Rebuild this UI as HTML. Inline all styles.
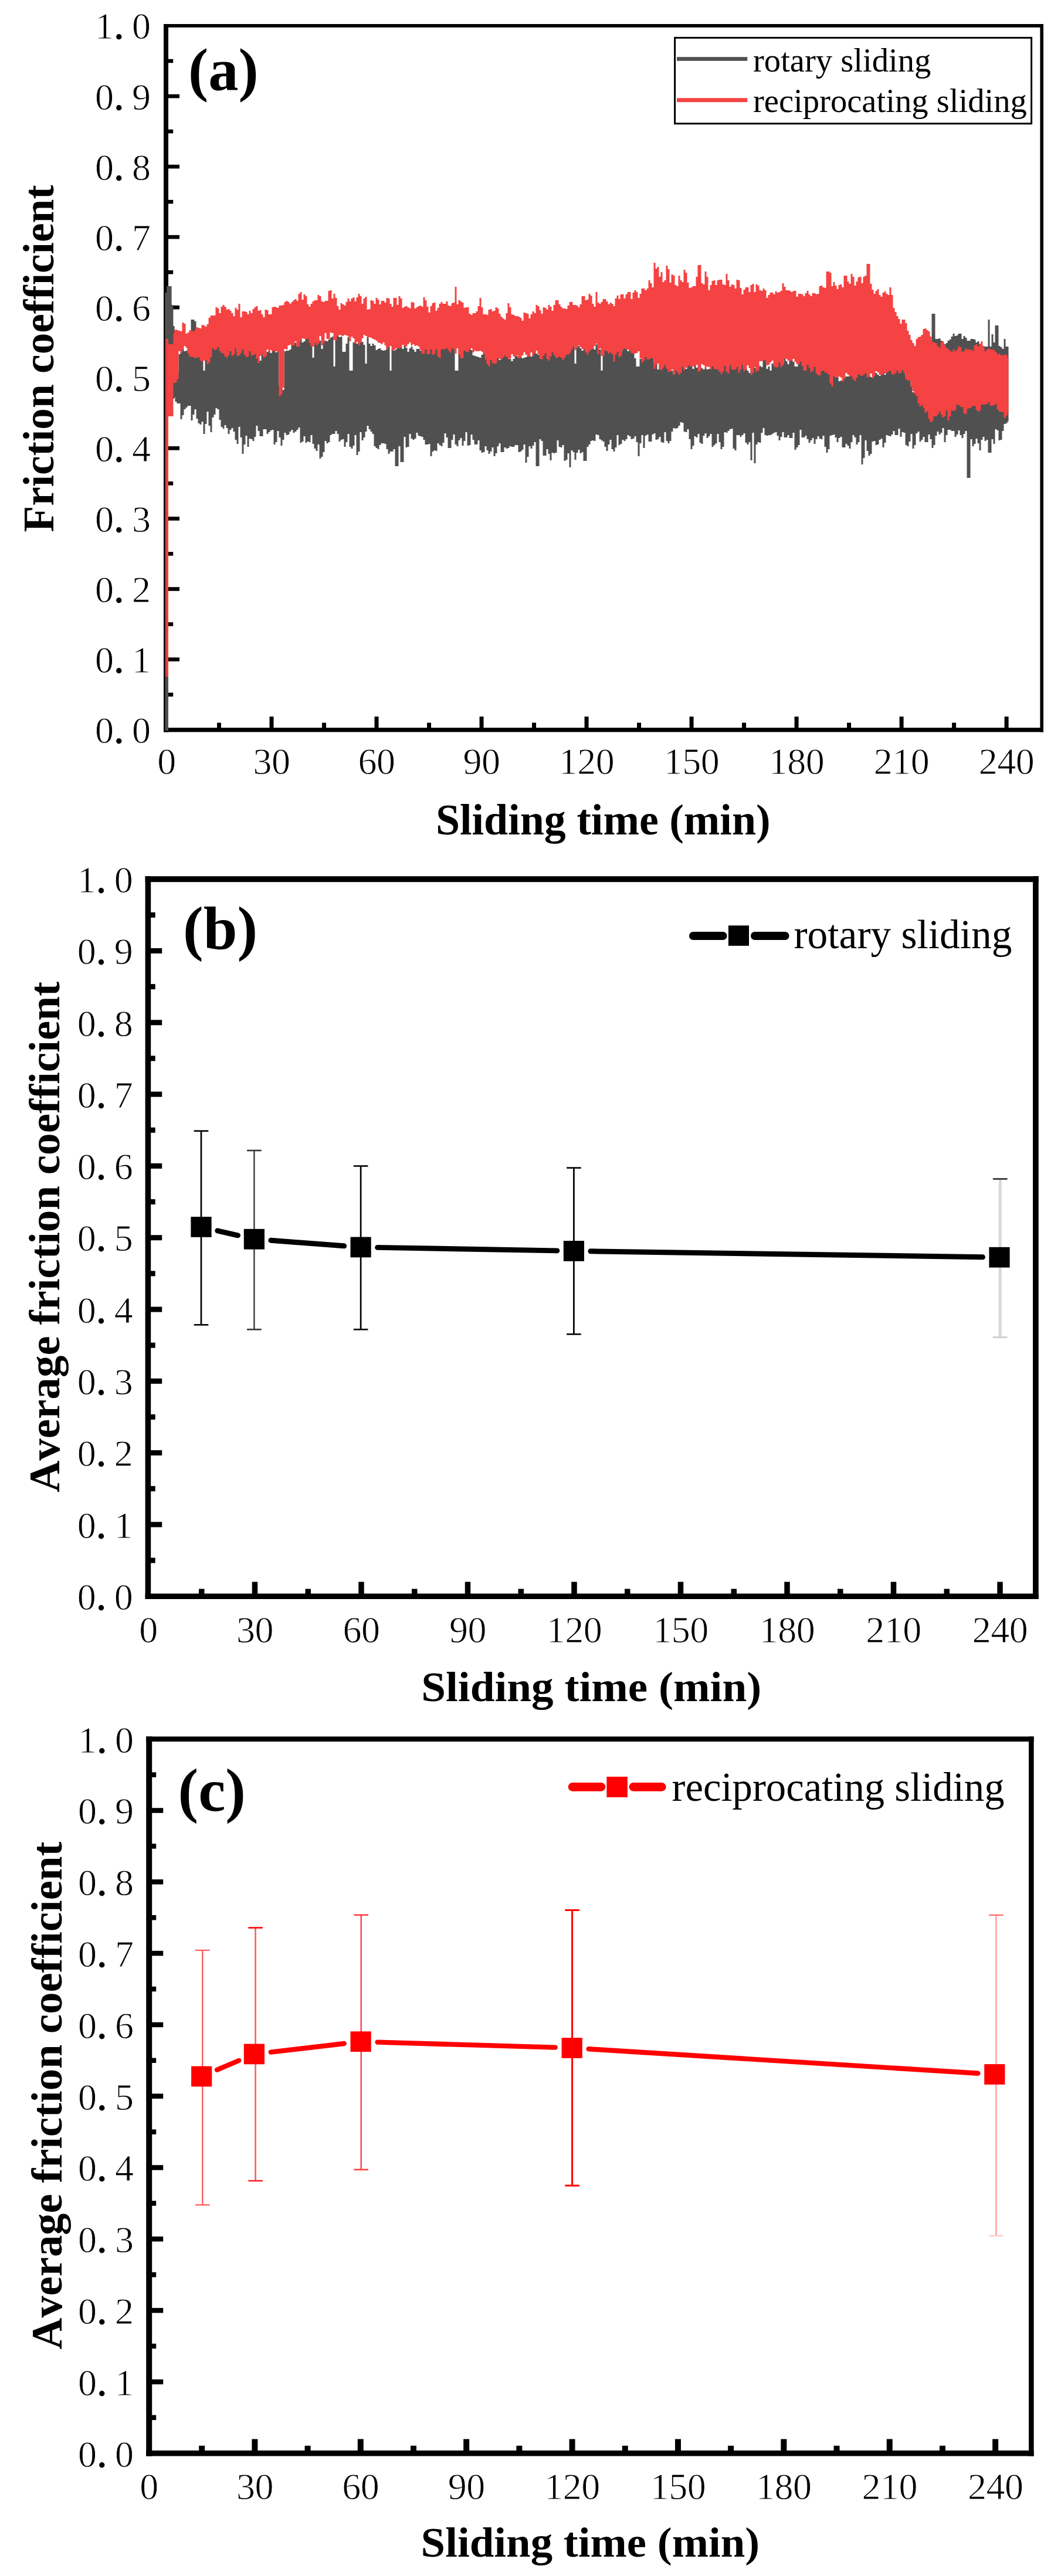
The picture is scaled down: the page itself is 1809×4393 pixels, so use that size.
<!DOCTYPE html>
<html lang="en"><head><meta charset="utf-8"><title>Friction coefficient vs sliding time</title>
<style>
html,body{margin:0;padding:0;background:#fff;}
body{width:1809px;height:4393px;overflow:hidden;}
svg{display:block;}
text{font-family:"Liberation Serif", serif;fill:#000;font-variant-ligatures:none;}
.tk{font-weight:400;stroke:#fff;stroke-width:0.9px;paint-order:fill stroke;}
.pd{stroke:#000;stroke-width:1.8px;}
.b{font-weight:700;}
.nk{font-kerning:none;}
</style></head><body>
<svg width="1809" height="4393" viewBox="0 0 1809 4393">
<rect width="1809" height="4393" fill="#fff"/>
<g id="panel-a">
<rect x="279.00" y="41.00" width="8.00" height="1207.40" fill="#000"/>
<rect x="1773.40" y="41.00" width="5.60" height="1207.40" fill="#000"/>
<rect x="279.00" y="41.00" width="1500.00" height="5.80" fill="#000"/>
<rect x="279.00" y="1241.00" width="1500.00" height="7.40" fill="#000"/>
<rect x="286.50" y="1181.27" width="8.70" height="6.60" fill="#000"/>
<rect x="286.50" y="1121.24" width="19.50" height="6.60" fill="#000"/>
<rect x="286.50" y="1061.21" width="8.70" height="6.60" fill="#000"/>
<rect x="286.50" y="1001.18" width="19.50" height="6.60" fill="#000"/>
<rect x="286.50" y="941.15" width="8.70" height="6.60" fill="#000"/>
<rect x="286.50" y="881.12" width="19.50" height="6.60" fill="#000"/>
<rect x="286.50" y="821.09" width="8.70" height="6.60" fill="#000"/>
<rect x="286.50" y="761.06" width="19.50" height="6.60" fill="#000"/>
<rect x="286.50" y="701.03" width="8.70" height="6.60" fill="#000"/>
<rect x="286.50" y="641.00" width="19.50" height="6.60" fill="#000"/>
<rect x="286.50" y="580.97" width="8.70" height="6.60" fill="#000"/>
<rect x="286.50" y="520.94" width="19.50" height="6.60" fill="#000"/>
<rect x="286.50" y="460.91" width="8.70" height="6.60" fill="#000"/>
<rect x="286.50" y="400.88" width="19.50" height="6.60" fill="#000"/>
<rect x="286.50" y="340.85" width="8.70" height="6.60" fill="#000"/>
<rect x="286.50" y="280.82" width="19.50" height="6.60" fill="#000"/>
<rect x="286.50" y="220.79" width="8.70" height="6.60" fill="#000"/>
<rect x="286.50" y="160.76" width="19.50" height="6.60" fill="#000"/>
<rect x="286.50" y="100.73" width="8.70" height="6.60" fill="#000"/>
<rect x="370.00" y="1232.50" width="7.00" height="9.00" fill="#000"/>
<rect x="459.51" y="1222.00" width="7.00" height="19.50" fill="#000"/>
<rect x="549.01" y="1232.50" width="7.00" height="9.00" fill="#000"/>
<rect x="638.52" y="1222.00" width="7.00" height="19.50" fill="#000"/>
<rect x="728.02" y="1232.50" width="7.00" height="9.00" fill="#000"/>
<rect x="817.53" y="1222.00" width="7.00" height="19.50" fill="#000"/>
<rect x="907.03" y="1232.50" width="7.00" height="9.00" fill="#000"/>
<rect x="996.54" y="1222.00" width="7.00" height="19.50" fill="#000"/>
<rect x="1086.05" y="1232.50" width="7.00" height="9.00" fill="#000"/>
<rect x="1175.55" y="1222.00" width="7.00" height="19.50" fill="#000"/>
<rect x="1265.05" y="1232.50" width="7.00" height="9.00" fill="#000"/>
<rect x="1354.56" y="1222.00" width="7.00" height="19.50" fill="#000"/>
<rect x="1444.06" y="1232.50" width="7.00" height="9.00" fill="#000"/>
<rect x="1533.57" y="1222.00" width="7.00" height="19.50" fill="#000"/>
<rect x="1623.07" y="1232.50" width="7.00" height="9.00" fill="#000"/>
<rect x="1712.58" y="1222.00" width="7.00" height="19.50" fill="#000"/>
<text class="tk" y="1267.0" font-size="64"><tspan x="162.0">0</tspan><tspan class="pd" x="194.7">.</tspan><tspan x="225.0">0</tspan></text>
<text class="tk" y="1146.9" font-size="64"><tspan x="162.0">0</tspan><tspan class="pd" x="194.7">.</tspan><tspan x="225.0">1</tspan></text>
<text class="tk" y="1026.9" font-size="64"><tspan x="162.0">0</tspan><tspan class="pd" x="194.7">.</tspan><tspan x="225.0">2</tspan></text>
<text class="tk" y="906.8" font-size="64"><tspan x="162.0">0</tspan><tspan class="pd" x="194.7">.</tspan><tspan x="225.0">3</tspan></text>
<text class="tk" y="786.8" font-size="64"><tspan x="162.0">0</tspan><tspan class="pd" x="194.7">.</tspan><tspan x="225.0">4</tspan></text>
<text class="tk" y="666.7" font-size="64"><tspan x="162.0">0</tspan><tspan class="pd" x="194.7">.</tspan><tspan x="225.0">5</tspan></text>
<text class="tk" y="546.6" font-size="64"><tspan x="162.0">0</tspan><tspan class="pd" x="194.7">.</tspan><tspan x="225.0">6</tspan></text>
<text class="tk" y="426.6" font-size="64"><tspan x="162.0">0</tspan><tspan class="pd" x="194.7">.</tspan><tspan x="225.0">7</tspan></text>
<text class="tk" y="306.5" font-size="64"><tspan x="162.0">0</tspan><tspan class="pd" x="194.7">.</tspan><tspan x="225.0">8</tspan></text>
<text class="tk" y="186.5" font-size="64"><tspan x="162.0">0</tspan><tspan class="pd" x="194.7">.</tspan><tspan x="225.0">9</tspan></text>
<text class="tk" y="66.4" font-size="64"><tspan x="162.0">1</tspan><tspan class="pd" x="194.7">.</tspan><tspan x="225.0">0</tspan></text>
<text class="tk" x="268.2" y="1320.3" font-size="64">0</text>
<text class="tk" x="431.5 463.0" y="1320.3" font-size="64">30</text>
<text class="tk" x="610.5 642.0" y="1320.3" font-size="64">60</text>
<text class="tk" x="789.5 821.0" y="1320.3" font-size="64">90</text>
<text class="tk" x="952.8 984.3 1015.8" y="1320.3" font-size="64">120</text>
<text class="tk" x="1131.8 1163.3 1194.8" y="1320.3" font-size="64">150</text>
<text class="tk" x="1310.8 1342.3 1373.8" y="1320.3" font-size="64">180</text>
<text class="tk" x="1489.8 1521.3 1552.8" y="1320.3" font-size="64">210</text>
<text class="tk" x="1668.8 1700.3 1731.8" y="1320.3" font-size="64">240</text>
<polygon fill="#505050" points="295.5,643 298.5,643 298.5,635 301.5,635 301.5,636 304.5,636 304.5,604 307.5,604 307.5,600 310.5,600 310.5,596 313.5,596 313.5,599 316.5,599 316.5,598 319.5,598 319.5,593 322.5,593 322.5,596 325.5,596 325.5,545 331.5,545 331.5,548 334.5,548 334.5,599 337.5,599 337.5,607 340.5,607 340.5,602 346.5,602 346.5,632 349.5,632 349.5,600 355.5,600 355.5,598 358.5,598 358.5,592 361.5,592 361.5,590 364.5,590 364.5,587 367.5,587 367.5,578 370.5,578 370.5,577 373.5,577 373.5,589 376.5,589 376.5,585 382.5,585 382.5,586 385.5,586 385.5,595 388.5,595 388.5,591 391.5,591 391.5,589 394.5,589 394.5,590 397.5,590 397.5,591 400.5,591 400.5,594 403.5,594 403.5,600 406.5,600 406.5,603 409.5,603 409.5,595 412.5,595 412.5,593 415.5,593 415.5,592 418.5,592 418.5,591 421.5,591 421.5,588 424.5,588 424.5,594 427.5,594 427.5,595 430.5,595 430.5,586 433.5,586 433.5,585 436.5,585 436.5,596 439.5,596 439.5,599 442.5,599 442.5,615 445.5,615 445.5,601 448.5,601 448.5,607 451.5,607 451.5,605 454.5,605 454.5,600 457.5,600 457.5,598 460.5,598 460.5,602 463.5,602 463.5,589 466.5,589 466.5,590 469.5,590 469.5,601 472.5,601 472.5,600 475.5,600 475.5,657 478.5,657 478.5,659 481.5,659 481.5,665 484.5,665 484.5,599 487.5,599 487.5,598 493.5,598 493.5,596 496.5,596 496.5,586 499.5,586 499.5,587 502.5,587 502.5,584 505.5,584 505.5,591 508.5,591 508.5,577 514.5,577 514.5,584 517.5,584 517.5,582 520.5,582 520.5,576 526.5,576 526.5,575 529.5,575 529.5,574 532.5,574 532.5,610 535.5,610 535.5,581 538.5,581 538.5,579 544.5,579 544.5,581 547.5,581 547.5,595 550.5,595 550.5,581 556.5,581 556.5,582 559.5,582 559.5,579 562.5,579 562.5,576 565.5,576 565.5,574 568.5,574 568.5,625 571.5,625 571.5,563 574.5,563 574.5,561 577.5,561 577.5,575 580.5,575 580.5,574 583.5,574 583.5,600 589.5,600 589.5,586 592.5,586 592.5,575 595.5,575 595.5,632 601.5,632 601.5,584 604.5,584 604.5,582 607.5,582 607.5,586 610.5,586 610.5,583 613.5,583 613.5,576 616.5,576 616.5,583 619.5,583 619.5,588 622.5,588 622.5,620 625.5,620 625.5,576 628.5,576 628.5,586 631.5,586 631.5,590 634.5,590 634.5,586 637.5,586 637.5,589 640.5,589 640.5,597 643.5,597 643.5,595 646.5,595 646.5,594 649.5,594 649.5,597 652.5,597 652.5,598 655.5,598 655.5,597 658.5,597 658.5,589 661.5,589 661.5,590 664.5,590 664.5,632 667.5,632 667.5,596 670.5,596 670.5,598 673.5,598 673.5,596 676.5,596 676.5,593 679.5,593 679.5,590 682.5,590 682.5,593 685.5,593 685.5,595 688.5,595 688.5,589 691.5,589 691.5,593 694.5,593 694.5,600 697.5,600 697.5,594 700.5,594 700.5,591 703.5,591 703.5,596 706.5,596 706.5,600 709.5,600 709.5,595 715.5,595 715.5,598 718.5,598 718.5,593 721.5,593 721.5,595 727.5,595 727.5,591 730.5,591 730.5,585 733.5,585 733.5,590 736.5,590 736.5,587 739.5,587 739.5,581 742.5,581 742.5,583 745.5,583 745.5,591 748.5,591 748.5,585 754.5,585 754.5,590 757.5,590 757.5,584 760.5,584 760.5,582 763.5,582 763.5,587 769.5,587 769.5,584 772.5,584 772.5,583 775.5,583 775.5,632 781.5,632 781.5,585 784.5,585 784.5,590 787.5,590 787.5,595 790.5,595 790.5,579 793.5,579 793.5,585 796.5,585 796.5,592 799.5,592 799.5,590 802.5,590 802.5,597 805.5,597 805.5,606 808.5,606 808.5,607 811.5,607 811.5,608 814.5,608 814.5,609 817.5,609 817.5,610 820.5,610 820.5,605 823.5,605 823.5,602 826.5,602 826.5,605 829.5,605 829.5,612 832.5,612 832.5,605 835.5,605 835.5,608 838.5,608 838.5,614 841.5,614 841.5,611 850.5,611 850.5,614 853.5,614 853.5,609 856.5,609 856.5,604 859.5,604 859.5,603 862.5,603 862.5,608 865.5,608 865.5,609 868.5,609 868.5,612 871.5,612 871.5,616 874.5,616 874.5,612 877.5,612 877.5,601 880.5,601 880.5,607 883.5,607 883.5,610 886.5,610 886.5,609 889.5,609 889.5,611 892.5,611 892.5,610 895.5,610 895.5,609 898.5,609 898.5,607 901.5,607 901.5,608 907.5,608 907.5,600 910.5,600 910.5,598 913.5,598 913.5,603 916.5,603 916.5,605 919.5,605 919.5,600 922.5,600 922.5,599 925.5,599 925.5,600 928.5,600 928.5,594 931.5,594 931.5,595 934.5,595 934.5,598 940.5,598 940.5,599 943.5,599 943.5,598 946.5,598 946.5,599 949.5,599 949.5,598 952.5,598 952.5,594 955.5,594 955.5,593 958.5,593 958.5,594 964.5,594 964.5,589 967.5,589 967.5,592 970.5,592 970.5,595 973.5,595 973.5,586 976.5,586 976.5,587 979.5,587 979.5,620 982.5,620 982.5,590 988.5,590 988.5,594 991.5,594 991.5,598 994.5,598 994.5,594 997.5,594 997.5,595 1000.5,595 1000.5,600 1003.5,600 1003.5,596 1006.5,596 1006.5,593 1009.5,593 1009.5,592 1012.5,592 1012.5,596 1015.5,596 1015.5,587 1018.5,587 1018.5,590 1021.5,590 1021.5,596 1024.5,596 1024.5,632 1027.5,632 1027.5,590 1030.5,590 1030.5,591 1033.5,591 1033.5,597 1036.5,597 1036.5,596 1039.5,596 1039.5,594 1042.5,594 1042.5,593 1048.5,593 1048.5,595 1054.5,595 1054.5,597 1057.5,597 1057.5,601 1060.5,601 1060.5,593 1063.5,593 1063.5,590 1066.5,590 1066.5,595 1069.5,595 1069.5,599 1072.5,599 1072.5,594 1075.5,594 1075.5,598 1078.5,598 1078.5,601 1081.5,601 1081.5,611 1084.5,611 1084.5,625 1090.5,625 1090.5,612 1096.5,612 1096.5,606 1099.5,606 1099.5,605 1102.5,605 1102.5,609 1105.5,609 1105.5,602 1108.5,602 1108.5,605 1111.5,605 1111.5,611 1114.5,611 1114.5,619 1117.5,619 1117.5,618 1120.5,618 1120.5,630 1123.5,630 1123.5,621 1126.5,621 1126.5,615 1129.5,615 1129.5,613 1132.5,613 1132.5,614 1135.5,614 1135.5,624 1138.5,624 1138.5,627 1144.5,627 1144.5,632 1147.5,632 1147.5,638 1150.5,638 1150.5,630 1156.5,630 1156.5,632 1159.5,632 1159.5,619 1162.5,619 1162.5,621 1165.5,621 1165.5,628 1168.5,628 1168.5,629 1171.5,629 1171.5,621 1177.5,621 1177.5,624 1180.5,624 1180.5,629 1183.5,629 1183.5,621 1186.5,621 1186.5,627 1189.5,627 1189.5,628 1192.5,628 1192.5,625 1195.5,625 1195.5,628 1198.5,628 1198.5,630 1201.5,630 1201.5,628 1204.5,628 1204.5,630 1207.5,630 1207.5,629 1210.5,629 1210.5,622 1213.5,622 1213.5,621 1216.5,621 1216.5,622 1219.5,622 1219.5,623 1222.5,623 1222.5,618 1228.5,618 1228.5,620 1234.5,620 1234.5,618 1237.5,618 1237.5,621 1240.5,621 1240.5,625 1243.5,625 1243.5,621 1246.5,621 1246.5,622 1249.5,622 1249.5,624 1252.5,624 1252.5,616 1255.5,616 1255.5,619 1258.5,619 1258.5,624 1261.5,624 1261.5,617 1264.5,617 1264.5,619 1267.5,619 1267.5,628 1270.5,628 1270.5,629 1273.5,629 1273.5,632 1276.5,632 1276.5,636 1279.5,636 1279.5,625 1282.5,625 1282.5,624 1285.5,624 1285.5,627 1288.5,627 1288.5,630 1291.5,630 1291.5,626 1294.5,626 1294.5,624 1297.5,624 1297.5,626 1300.5,626 1300.5,606 1303.5,606 1303.5,607 1306.5,607 1306.5,629 1309.5,629 1309.5,625 1312.5,625 1312.5,632 1315.5,632 1315.5,620 1318.5,620 1318.5,621 1321.5,621 1321.5,619 1324.5,619 1324.5,612 1327.5,612 1327.5,614 1330.5,614 1330.5,616 1333.5,616 1333.5,618 1336.5,618 1336.5,611 1339.5,611 1339.5,616 1342.5,616 1342.5,621 1345.5,621 1345.5,614 1348.5,614 1348.5,615 1351.5,615 1351.5,617 1354.5,617 1354.5,625 1360.5,625 1360.5,609 1363.5,609 1363.5,613 1366.5,613 1366.5,612 1369.5,612 1369.5,609 1372.5,609 1372.5,613 1375.5,613 1375.5,618 1378.5,618 1378.5,609 1381.5,609 1381.5,610 1384.5,610 1384.5,621 1387.5,621 1387.5,624 1390.5,624 1390.5,626 1393.5,626 1393.5,631 1396.5,631 1396.5,624 1399.5,624 1399.5,623 1402.5,623 1402.5,626 1408.5,626 1408.5,621 1411.5,621 1411.5,626 1414.5,626 1414.5,632 1417.5,632 1417.5,641 1423.5,641 1423.5,636 1426.5,636 1426.5,640 1429.5,640 1429.5,650 1432.5,650 1432.5,649 1435.5,649 1435.5,647 1438.5,647 1438.5,644 1441.5,644 1441.5,642 1453.5,642 1453.5,638 1456.5,638 1456.5,634 1459.5,634 1459.5,636 1462.5,636 1462.5,637 1465.5,637 1465.5,634 1468.5,634 1468.5,632 1471.5,632 1471.5,634 1474.5,634 1474.5,635 1477.5,635 1477.5,637 1480.5,637 1480.5,640 1483.5,640 1483.5,643 1486.5,643 1486.5,644 1489.5,644 1489.5,636 1495.5,636 1495.5,639 1498.5,639 1498.5,641 1501.5,641 1501.5,623 1504.5,623 1504.5,626 1507.5,626 1507.5,639 1510.5,639 1510.5,632 1513.5,632 1513.5,628 1516.5,628 1516.5,626 1519.5,626 1519.5,633 1525.5,633 1525.5,622 1528.5,622 1528.5,624 1531.5,624 1531.5,630 1534.5,630 1534.5,632 1537.5,632 1537.5,630 1540.5,630 1540.5,633 1543.5,633 1543.5,642 1546.5,642 1546.5,639 1549.5,639 1549.5,648 1552.5,648 1552.5,658 1555.5,658 1555.5,669 1558.5,669 1558.5,666 1561.5,666 1561.5,667 1564.5,667 1564.5,669 1567.5,669 1567.5,676 1570.5,676 1570.5,675 1573.5,675 1573.5,682 1576.5,682 1576.5,690 1579.5,690 1579.5,684 1582.5,684 1582.5,689 1585.5,689 1585.5,695 1588.5,695 1588.5,535 1594.5,535 1594.5,578 1600.5,578 1600.5,577 1603.5,577 1603.5,581 1606.5,581 1606.5,585 1609.5,585 1609.5,587 1612.5,587 1612.5,585 1615.5,585 1615.5,581 1618.5,581 1618.5,579 1621.5,579 1621.5,574 1624.5,574 1624.5,569 1627.5,569 1627.5,573 1630.5,573 1630.5,572 1633.5,572 1633.5,569 1639.5,569 1639.5,578 1642.5,578 1642.5,573 1645.5,573 1645.5,576 1648.5,576 1648.5,581 1654.5,581 1654.5,578 1660.5,578 1660.5,579 1663.5,579 1663.5,584 1666.5,584 1666.5,582 1669.5,582 1669.5,587 1672.5,587 1672.5,591 1675.5,591 1675.5,590 1678.5,590 1678.5,591 1684.5,591 1684.5,545 1687.5,545 1687.5,591 1690.5,591 1690.5,570 1693.5,570 1693.5,584 1696.5,584 1696.5,555 1702.5,555 1702.5,590 1705.5,590 1705.5,592 1708.5,592 1708.5,595 1711.5,595 1711.5,578 1714.5,578 1714.5,591 1719.5,591 1719.5,719 1717.5,719 1717.5,722 1714.5,722 1714.5,723 1711.5,723 1711.5,735 1708.5,735 1708.5,750 1705.5,750 1705.5,751 1702.5,751 1702.5,734 1699.5,734 1699.5,732 1696.5,732 1696.5,757 1693.5,757 1693.5,749 1690.5,749 1690.5,772 1684.5,772 1684.5,750 1681.5,750 1681.5,752 1678.5,752 1678.5,745 1675.5,745 1675.5,750 1672.5,750 1672.5,768 1669.5,768 1669.5,756 1666.5,756 1666.5,748 1663.5,748 1663.5,757 1660.5,757 1660.5,761 1657.5,761 1657.5,749 1654.5,749 1654.5,815 1648.5,815 1648.5,735 1645.5,735 1645.5,740 1642.5,740 1642.5,747 1639.5,747 1639.5,742 1636.5,742 1636.5,734 1633.5,734 1633.5,741 1630.5,741 1630.5,745 1627.5,745 1627.5,735 1621.5,735 1621.5,733 1615.5,733 1615.5,742 1612.5,742 1612.5,754 1609.5,754 1609.5,730 1606.5,730 1606.5,738 1603.5,738 1603.5,741 1600.5,741 1600.5,736 1597.5,736 1597.5,743 1594.5,743 1594.5,759 1591.5,759 1591.5,764 1588.5,764 1588.5,749 1585.5,749 1585.5,741 1582.5,741 1582.5,754 1576.5,754 1576.5,745 1573.5,745 1573.5,750 1570.5,750 1570.5,753 1567.5,753 1567.5,736 1564.5,736 1564.5,739 1561.5,739 1561.5,759 1558.5,759 1558.5,765 1555.5,765 1555.5,740 1552.5,740 1552.5,753 1549.5,753 1549.5,761 1546.5,761 1546.5,759 1543.5,759 1543.5,738 1540.5,738 1540.5,737 1537.5,737 1537.5,745 1534.5,745 1534.5,731 1531.5,731 1531.5,742 1525.5,742 1525.5,735 1522.5,735 1522.5,741 1519.5,741 1519.5,744 1516.5,744 1516.5,743 1513.5,743 1513.5,742 1510.5,742 1510.5,755 1507.5,755 1507.5,763 1504.5,763 1504.5,748 1501.5,748 1501.5,750 1498.5,750 1498.5,758 1495.5,758 1495.5,759 1492.5,759 1492.5,752 1489.5,752 1489.5,753 1486.5,753 1486.5,774 1483.5,774 1483.5,777 1480.5,777 1480.5,769 1477.5,769 1477.5,751 1474.5,751 1474.5,781 1471.5,781 1471.5,792 1468.5,792 1468.5,742 1465.5,742 1465.5,754 1462.5,754 1462.5,758 1459.5,758 1459.5,746 1456.5,746 1456.5,742 1453.5,742 1453.5,754 1450.5,754 1450.5,765 1447.5,765 1447.5,760 1444.5,760 1444.5,757 1441.5,757 1441.5,763 1435.5,763 1435.5,745 1432.5,745 1432.5,747 1429.5,747 1429.5,754 1426.5,754 1426.5,746 1423.5,746 1423.5,741 1420.5,741 1420.5,742 1417.5,742 1417.5,743 1414.5,743 1414.5,766 1411.5,766 1411.5,772 1408.5,772 1408.5,762 1405.5,762 1405.5,743 1402.5,743 1402.5,749 1399.5,749 1399.5,748 1396.5,748 1396.5,744 1393.5,744 1393.5,749 1390.5,749 1390.5,757 1387.5,757 1387.5,747 1384.5,747 1384.5,751 1381.5,751 1381.5,755 1378.5,755 1378.5,749 1375.5,749 1375.5,743 1372.5,743 1372.5,746 1366.5,746 1366.5,733 1363.5,733 1363.5,759 1360.5,759 1360.5,763 1357.5,763 1357.5,767 1354.5,767 1354.5,738 1351.5,738 1351.5,747 1345.5,747 1345.5,742 1342.5,742 1342.5,746 1336.5,746 1336.5,737 1333.5,737 1333.5,745 1330.5,745 1330.5,751 1327.5,751 1327.5,743 1324.5,743 1324.5,737 1321.5,737 1321.5,738 1318.5,738 1318.5,740 1315.5,740 1315.5,742 1309.5,742 1309.5,743 1306.5,743 1306.5,742 1303.5,742 1303.5,730 1300.5,730 1300.5,738 1297.5,738 1297.5,755 1294.5,755 1294.5,754 1291.5,754 1291.5,758 1288.5,758 1288.5,790 1285.5,790 1285.5,738 1282.5,738 1282.5,785 1279.5,785 1279.5,754 1276.5,754 1276.5,758 1273.5,758 1273.5,755 1270.5,755 1270.5,739 1267.5,739 1267.5,742 1264.5,742 1264.5,745 1261.5,745 1261.5,742 1255.5,742 1255.5,768 1252.5,768 1252.5,765 1249.5,765 1249.5,731 1246.5,731 1246.5,732 1243.5,732 1243.5,735 1240.5,735 1240.5,738 1237.5,738 1237.5,737 1234.5,737 1234.5,762 1231.5,762 1231.5,766 1228.5,766 1228.5,754 1225.5,754 1225.5,740 1222.5,740 1222.5,756 1219.5,756 1219.5,759 1216.5,759 1216.5,762 1213.5,762 1213.5,740 1210.5,740 1210.5,744 1207.5,744 1207.5,747 1204.5,747 1204.5,739 1201.5,739 1201.5,743 1198.5,743 1198.5,757 1195.5,757 1195.5,755 1192.5,755 1192.5,740 1189.5,740 1189.5,746 1186.5,746 1186.5,744 1183.5,744 1183.5,760 1180.5,760 1180.5,766 1177.5,766 1177.5,749 1174.5,749 1174.5,732 1171.5,732 1171.5,737 1168.5,737 1168.5,736 1165.5,736 1165.5,721 1162.5,721 1162.5,720 1159.5,720 1159.5,726 1156.5,726 1156.5,730 1153.5,730 1153.5,731 1150.5,731 1150.5,730 1147.5,730 1147.5,736 1144.5,736 1144.5,752 1141.5,752 1141.5,756 1138.5,756 1138.5,752 1135.5,752 1135.5,737 1132.5,737 1132.5,755 1129.5,755 1129.5,754 1126.5,754 1126.5,745 1123.5,745 1123.5,749 1120.5,749 1120.5,750 1117.5,750 1117.5,739 1114.5,739 1114.5,741 1111.5,741 1111.5,753 1105.5,753 1105.5,741 1102.5,741 1102.5,743 1099.5,743 1099.5,764 1096.5,764 1096.5,742 1093.5,742 1093.5,756 1090.5,756 1090.5,778 1087.5,778 1087.5,754 1084.5,754 1084.5,744 1081.5,744 1081.5,748 1078.5,748 1078.5,749 1075.5,749 1075.5,744 1072.5,744 1072.5,742 1069.5,742 1069.5,749 1066.5,749 1066.5,752 1063.5,752 1063.5,750 1060.5,750 1060.5,757 1057.5,757 1057.5,759 1054.5,759 1054.5,742 1051.5,742 1051.5,763 1048.5,763 1048.5,770 1045.5,770 1045.5,766 1042.5,766 1042.5,750 1039.5,750 1039.5,758 1036.5,758 1036.5,769 1033.5,769 1033.5,762 1030.5,762 1030.5,753 1027.5,753 1027.5,751 1024.5,751 1024.5,749 1021.5,749 1021.5,742 1018.5,742 1018.5,741 1015.5,741 1015.5,752 1012.5,752 1012.5,751 1009.5,751 1009.5,752 1006.5,752 1006.5,758 1003.5,758 1003.5,762 1000.5,762 1000.5,786 994.5,786 994.5,771 991.5,771 991.5,773 988.5,773 988.5,767 985.5,767 985.5,772 982.5,772 982.5,784 979.5,784 979.5,771 976.5,771 976.5,768 973.5,768 973.5,797 970.5,797 970.5,773 967.5,773 967.5,784 964.5,784 964.5,786 961.5,786 961.5,759 958.5,759 958.5,763 955.5,763 955.5,762 952.5,762 952.5,751 949.5,751 949.5,772 946.5,772 946.5,773 943.5,773 943.5,772 940.5,772 940.5,785 937.5,785 937.5,774 934.5,774 934.5,766 931.5,766 931.5,777 925.5,777 925.5,752 922.5,752 922.5,749 919.5,749 919.5,795 913.5,795 913.5,754 910.5,754 910.5,760 907.5,760 907.5,765 904.5,765 904.5,761 901.5,761 901.5,779 898.5,779 898.5,789 895.5,789 895.5,758 892.5,758 892.5,767 889.5,767 889.5,770 886.5,770 886.5,771 883.5,771 883.5,759 877.5,759 877.5,762 871.5,762 871.5,761 868.5,761 868.5,764 865.5,764 865.5,765 862.5,765 862.5,763 859.5,763 859.5,771 853.5,771 853.5,756 850.5,756 850.5,761 847.5,761 847.5,773 844.5,773 844.5,778 841.5,778 841.5,763 838.5,763 838.5,770 835.5,770 835.5,774 832.5,774 832.5,768 829.5,768 829.5,761 826.5,761 826.5,771 823.5,771 823.5,772 820.5,772 820.5,768 817.5,768 817.5,751 814.5,751 814.5,758 808.5,758 808.5,750 805.5,750 805.5,741 802.5,741 802.5,759 799.5,759 799.5,760 796.5,760 796.5,737 793.5,737 793.5,752 790.5,752 790.5,760 787.5,760 787.5,747 784.5,747 784.5,751 781.5,751 781.5,761 778.5,761 778.5,758 775.5,758 775.5,741 772.5,741 772.5,750 769.5,750 769.5,764 763.5,764 763.5,746 760.5,746 760.5,739 757.5,739 757.5,755 754.5,755 754.5,761 751.5,761 751.5,759 748.5,759 748.5,756 745.5,756 745.5,769 742.5,769 742.5,768 739.5,768 739.5,770 736.5,770 736.5,778 733.5,778 733.5,757 730.5,757 730.5,758 724.5,758 724.5,750 721.5,750 721.5,745 718.5,745 718.5,744 715.5,744 715.5,743 712.5,743 712.5,738 709.5,738 709.5,748 706.5,748 706.5,750 703.5,750 703.5,748 700.5,748 700.5,740 697.5,740 697.5,762 694.5,762 694.5,763 691.5,763 691.5,745 688.5,745 688.5,788 682.5,788 682.5,761 679.5,761 679.5,795 673.5,795 673.5,766 670.5,766 670.5,770 664.5,770 664.5,774 661.5,774 661.5,766 658.5,766 658.5,757 655.5,757 655.5,756 649.5,756 649.5,759 646.5,759 646.5,766 643.5,766 643.5,764 640.5,764 640.5,761 637.5,761 637.5,740 634.5,740 634.5,736 631.5,736 631.5,732 628.5,732 628.5,726 625.5,726 625.5,736 622.5,736 622.5,746 619.5,746 619.5,751 616.5,751 616.5,737 613.5,737 613.5,770 610.5,770 610.5,776 607.5,776 607.5,742 604.5,742 604.5,760 601.5,760 601.5,765 598.5,765 598.5,762 595.5,762 595.5,740 592.5,740 592.5,754 589.5,754 589.5,762 586.5,762 586.5,749 583.5,749 583.5,750 580.5,750 580.5,753 577.5,753 577.5,740 574.5,740 574.5,735 571.5,735 571.5,740 565.5,740 565.5,742 562.5,742 562.5,754 559.5,754 559.5,756 556.5,756 556.5,752 553.5,752 553.5,771 550.5,771 550.5,779 547.5,779 547.5,782 544.5,782 544.5,758 541.5,758 541.5,769 538.5,769 538.5,765 535.5,765 535.5,757 532.5,757 532.5,742 529.5,742 529.5,754 526.5,754 526.5,753 523.5,753 523.5,755 520.5,755 520.5,744 517.5,744 517.5,753 514.5,753 514.5,755 511.5,755 511.5,729 508.5,729 508.5,733 505.5,733 505.5,736 502.5,736 502.5,738 499.5,738 499.5,733 496.5,733 496.5,736 493.5,736 493.5,741 490.5,741 490.5,742 487.5,742 487.5,738 484.5,738 484.5,750 481.5,750 481.5,760 478.5,760 478.5,746 475.5,746 475.5,735 472.5,735 472.5,754 469.5,754 469.5,758 466.5,758 466.5,733 463.5,733 463.5,734 460.5,734 460.5,737 457.5,737 457.5,740 454.5,740 454.5,732 448.5,732 448.5,744 442.5,744 442.5,735 439.5,735 439.5,726 436.5,726 436.5,745 433.5,745 433.5,752 430.5,752 430.5,749 427.5,749 427.5,748 424.5,748 424.5,762 421.5,762 421.5,743 418.5,743 418.5,758 415.5,758 415.5,774 412.5,774 412.5,746 409.5,746 409.5,728 406.5,728 406.5,757 403.5,757 403.5,750 400.5,750 400.5,736 397.5,736 397.5,730 394.5,730 394.5,733 391.5,733 391.5,740 388.5,740 388.5,730 385.5,730 385.5,725 382.5,725 382.5,731 379.5,731 379.5,728 376.5,728 376.5,716 373.5,716 373.5,698 370.5,698 370.5,696 367.5,696 367.5,707 364.5,707 364.5,712 361.5,712 361.5,737 358.5,737 358.5,726 355.5,726 355.5,702 352.5,702 352.5,723 349.5,723 349.5,740 346.5,740 346.5,719 343.5,719 343.5,724 340.5,724 340.5,722 337.5,722 337.5,714 334.5,714 334.5,698 331.5,698 331.5,707 328.5,707 328.5,717 325.5,717 325.5,692 319.5,692 319.5,695 316.5,695 316.5,698 313.5,698 313.5,708 310.5,708 310.5,715 307.5,715 307.5,688 301.5,688 301.5,685 298.5,685 298.5,677 295.5,677"/>
<polygon fill="#505050" points="281.5,499 284,499 284,488 292.6,488 292.6,520 295.4,520 295.4,556 297.6,556 297.6,680 281.5,680"/>
<polygon fill="#f54242" points="295.5,568 298.5,568 298.5,562 301.5,562 301.5,563 304.5,563 304.5,564 307.5,564 307.5,565 310.5,565 310.5,550 313.5,550 313.5,552 316.5,552 316.5,569 319.5,569 319.5,567 322.5,567 322.5,563 325.5,563 325.5,564 328.5,564 328.5,565 331.5,565 331.5,563 334.5,563 334.5,558 337.5,558 337.5,559 340.5,559 340.5,560 343.5,560 343.5,554 346.5,554 346.5,555 349.5,555 349.5,557 352.5,557 352.5,553 355.5,553 355.5,542 358.5,542 358.5,538 367.5,538 367.5,524 370.5,524 370.5,526 373.5,526 373.5,534 376.5,534 376.5,523 379.5,523 379.5,520 382.5,520 382.5,523 385.5,523 385.5,528 388.5,528 388.5,527 391.5,527 391.5,530 394.5,530 394.5,534 397.5,534 397.5,539 400.5,539 400.5,525 403.5,525 403.5,528 406.5,528 406.5,518 409.5,518 409.5,541 412.5,541 412.5,531 418.5,531 418.5,532 421.5,532 421.5,536 424.5,536 424.5,530 427.5,530 427.5,534 430.5,534 430.5,527 433.5,527 433.5,524 436.5,524 436.5,522 439.5,522 439.5,530 442.5,530 442.5,529 445.5,529 445.5,536 448.5,536 448.5,541 451.5,541 451.5,528 454.5,528 454.5,529 457.5,529 457.5,536 463.5,536 463.5,524 466.5,524 466.5,523 469.5,523 469.5,524 472.5,524 472.5,525 475.5,525 475.5,521 481.5,521 481.5,520 484.5,520 484.5,515 487.5,515 487.5,513 490.5,513 490.5,515 493.5,515 493.5,518 496.5,518 496.5,515 499.5,515 499.5,512 502.5,512 502.5,510 505.5,510 505.5,513 508.5,513 508.5,501 511.5,501 511.5,498 514.5,498 514.5,511 517.5,511 517.5,502 520.5,502 520.5,505 523.5,505 523.5,519 526.5,519 526.5,523 529.5,523 529.5,518 532.5,518 532.5,514 535.5,514 535.5,512 541.5,512 541.5,503 544.5,503 544.5,505 547.5,505 547.5,514 550.5,514 550.5,515 553.5,515 553.5,513 559.5,513 559.5,496 562.5,496 562.5,495 565.5,495 565.5,509 568.5,509 568.5,501 571.5,501 571.5,508 574.5,508 574.5,522 577.5,522 577.5,528 580.5,528 580.5,517 583.5,517 583.5,519 586.5,519 586.5,521 589.5,521 589.5,515 592.5,515 592.5,509 595.5,509 595.5,514 598.5,514 598.5,509 601.5,509 601.5,507 604.5,507 604.5,514 607.5,514 607.5,507 610.5,507 610.5,501 613.5,501 613.5,505 616.5,505 616.5,518 619.5,518 619.5,509 622.5,509 622.5,506 625.5,506 625.5,528 628.5,528 628.5,527 631.5,527 631.5,512 634.5,512 634.5,513 637.5,513 637.5,518 640.5,518 640.5,508 643.5,508 643.5,511 646.5,511 646.5,519 649.5,519 649.5,513 655.5,513 655.5,516 658.5,516 658.5,508 661.5,508 661.5,509 664.5,509 664.5,518 667.5,518 667.5,523 670.5,523 670.5,508 676.5,508 676.5,520 679.5,520 679.5,505 682.5,505 682.5,509 685.5,509 685.5,525 688.5,525 688.5,523 691.5,523 691.5,522 694.5,522 694.5,524 697.5,524 697.5,526 700.5,526 700.5,515 703.5,515 703.5,516 706.5,516 706.5,526 709.5,526 709.5,524 712.5,524 712.5,522 715.5,522 715.5,521 718.5,521 718.5,523 721.5,523 721.5,507 724.5,507 724.5,512 727.5,512 727.5,523 730.5,523 730.5,533 733.5,533 733.5,522 736.5,522 736.5,517 739.5,517 739.5,516 742.5,516 742.5,530 745.5,530 745.5,525 748.5,525 748.5,518 751.5,518 751.5,515 754.5,515 754.5,518 760.5,518 760.5,514 763.5,514 763.5,521 766.5,521 766.5,522 769.5,522 769.5,517 772.5,517 772.5,516 775.5,516 775.5,489 778.5,489 778.5,519 781.5,519 781.5,512 784.5,512 784.5,514 787.5,514 787.5,516 790.5,516 790.5,525 793.5,525 793.5,524 799.5,524 799.5,535 802.5,535 802.5,537 805.5,537 805.5,534 811.5,534 811.5,531 814.5,531 814.5,522 817.5,522 817.5,508 820.5,508 820.5,524 823.5,524 823.5,536 829.5,536 829.5,537 832.5,537 832.5,528 835.5,528 835.5,527 838.5,527 838.5,531 841.5,531 841.5,530 844.5,530 844.5,524 847.5,524 847.5,526 850.5,526 850.5,535 853.5,535 853.5,540 856.5,540 856.5,543 859.5,543 859.5,545 862.5,545 862.5,534 865.5,534 865.5,517 868.5,517 868.5,524 871.5,524 871.5,536 874.5,536 874.5,537 877.5,537 877.5,539 883.5,539 883.5,540 886.5,540 886.5,542 889.5,542 889.5,547 892.5,547 892.5,533 895.5,533 895.5,534 898.5,534 898.5,535 901.5,535 901.5,543 904.5,543 904.5,536 907.5,536 907.5,531 910.5,531 910.5,534 913.5,534 913.5,520 916.5,520 916.5,522 919.5,522 919.5,529 922.5,529 922.5,535 925.5,535 925.5,524 928.5,524 928.5,525 931.5,525 931.5,528 934.5,528 934.5,520 937.5,520 937.5,523 940.5,523 940.5,530 943.5,530 943.5,520 946.5,520 946.5,512 952.5,512 952.5,519 955.5,519 955.5,523 958.5,523 958.5,526 964.5,526 964.5,527 967.5,527 967.5,521 970.5,521 970.5,515 976.5,515 976.5,520 982.5,520 982.5,521 985.5,521 985.5,524 988.5,524 988.5,519 991.5,519 991.5,505 997.5,505 997.5,512 1000.5,512 1000.5,511 1003.5,511 1003.5,501 1006.5,501 1006.5,504 1009.5,504 1009.5,518 1012.5,518 1012.5,523 1015.5,523 1015.5,498 1018.5,498 1018.5,516 1021.5,516 1021.5,518 1024.5,518 1024.5,515 1027.5,515 1027.5,510 1033.5,510 1033.5,514 1036.5,514 1036.5,519 1039.5,519 1039.5,516 1042.5,516 1042.5,518 1045.5,518 1045.5,522 1048.5,522 1048.5,509 1051.5,509 1051.5,504 1054.5,504 1054.5,510 1057.5,510 1057.5,502 1063.5,502 1063.5,509 1066.5,509 1066.5,502 1069.5,502 1069.5,498 1075.5,498 1075.5,510 1078.5,510 1078.5,499 1081.5,499 1081.5,495 1084.5,495 1084.5,498 1087.5,498 1087.5,508 1090.5,508 1090.5,501 1093.5,501 1093.5,492 1099.5,492 1099.5,495 1102.5,495 1102.5,492 1105.5,492 1105.5,478 1108.5,478 1108.5,483 1111.5,483 1111.5,490 1114.5,490 1114.5,448 1117.5,448 1117.5,458 1120.5,458 1120.5,455 1123.5,455 1123.5,472 1126.5,472 1126.5,464 1129.5,464 1129.5,481 1132.5,481 1132.5,478 1135.5,478 1135.5,453 1138.5,453 1138.5,459 1141.5,459 1141.5,482 1144.5,482 1144.5,468 1147.5,468 1147.5,470 1150.5,470 1150.5,486 1153.5,486 1153.5,488 1156.5,488 1156.5,470 1159.5,470 1159.5,478 1162.5,478 1162.5,481 1165.5,481 1165.5,460 1168.5,460 1168.5,465 1171.5,465 1171.5,482 1174.5,482 1174.5,491 1177.5,491 1177.5,490 1180.5,490 1180.5,488 1186.5,488 1186.5,472 1189.5,472 1189.5,452 1195.5,452 1195.5,483 1198.5,483 1198.5,485 1201.5,485 1201.5,463 1204.5,463 1204.5,472 1207.5,472 1207.5,495 1210.5,495 1210.5,486 1213.5,486 1213.5,479 1216.5,479 1216.5,478 1219.5,478 1219.5,486 1222.5,486 1222.5,478 1225.5,478 1225.5,477 1231.5,477 1231.5,485 1234.5,485 1234.5,486 1237.5,486 1237.5,467 1240.5,467 1240.5,478 1243.5,478 1243.5,489 1246.5,489 1246.5,485 1249.5,485 1249.5,486 1252.5,486 1252.5,492 1255.5,492 1255.5,477 1258.5,477 1258.5,478 1261.5,478 1261.5,491 1264.5,491 1264.5,502 1267.5,502 1267.5,494 1270.5,494 1270.5,490 1276.5,490 1276.5,498 1279.5,498 1279.5,486 1282.5,486 1282.5,484 1285.5,484 1285.5,498 1288.5,498 1288.5,485 1291.5,485 1291.5,487 1294.5,487 1294.5,495 1297.5,495 1297.5,496 1300.5,496 1300.5,492 1303.5,492 1303.5,495 1306.5,495 1306.5,508 1309.5,508 1309.5,503 1312.5,503 1312.5,499 1318.5,499 1318.5,502 1321.5,502 1321.5,497 1324.5,497 1324.5,499 1327.5,499 1327.5,498 1330.5,498 1330.5,496 1333.5,496 1333.5,483 1336.5,483 1336.5,489 1339.5,489 1339.5,495 1345.5,495 1345.5,496 1348.5,496 1348.5,498 1351.5,498 1351.5,496 1357.5,496 1357.5,506 1360.5,506 1360.5,501 1366.5,501 1366.5,502 1369.5,502 1369.5,505 1372.5,505 1372.5,500 1375.5,500 1375.5,496 1378.5,496 1378.5,502 1381.5,502 1381.5,505 1384.5,505 1384.5,500 1390.5,500 1390.5,502 1393.5,502 1393.5,501 1396.5,501 1396.5,488 1399.5,488 1399.5,487 1402.5,487 1402.5,490 1405.5,490 1405.5,491 1408.5,491 1408.5,463 1414.5,463 1414.5,465 1417.5,465 1417.5,488 1420.5,488 1420.5,481 1423.5,481 1423.5,487 1426.5,487 1426.5,493 1429.5,493 1429.5,486 1432.5,486 1432.5,485 1435.5,485 1435.5,490 1438.5,490 1438.5,470 1444.5,470 1444.5,480 1447.5,480 1447.5,484 1450.5,484 1450.5,467 1453.5,467 1453.5,472 1456.5,472 1456.5,487 1459.5,487 1459.5,480 1462.5,480 1462.5,473 1465.5,473 1465.5,472 1468.5,472 1468.5,483 1471.5,483 1471.5,472 1474.5,472 1474.5,470 1477.5,470 1477.5,450 1483.5,450 1483.5,484 1486.5,484 1486.5,494 1489.5,494 1489.5,501 1492.5,501 1492.5,496 1495.5,496 1495.5,493 1498.5,493 1498.5,503 1501.5,503 1501.5,506 1504.5,506 1504.5,499 1507.5,499 1507.5,497 1510.5,497 1510.5,501 1513.5,501 1513.5,503 1516.5,503 1516.5,490 1519.5,490 1519.5,503 1522.5,503 1522.5,525 1525.5,525 1525.5,532 1528.5,532 1528.5,539 1531.5,539 1531.5,544 1534.5,544 1534.5,552 1537.5,552 1537.5,545 1543.5,545 1543.5,551 1546.5,551 1546.5,564 1549.5,564 1549.5,571 1552.5,571 1552.5,580 1555.5,580 1555.5,585 1558.5,585 1558.5,590 1561.5,590 1561.5,578 1564.5,578 1564.5,575 1567.5,575 1567.5,574 1570.5,574 1570.5,571 1573.5,571 1573.5,561 1576.5,561 1576.5,560 1579.5,560 1579.5,563 1582.5,563 1582.5,565 1585.5,565 1585.5,574 1588.5,574 1588.5,583 1591.5,583 1591.5,584 1594.5,584 1594.5,585 1597.5,585 1597.5,590 1600.5,590 1600.5,593 1603.5,593 1603.5,584 1606.5,584 1606.5,582 1609.5,582 1609.5,588 1612.5,588 1612.5,593 1615.5,593 1615.5,595 1618.5,595 1618.5,598 1621.5,598 1621.5,600 1624.5,600 1624.5,596 1627.5,596 1627.5,599 1630.5,599 1630.5,596 1633.5,596 1633.5,591 1636.5,591 1636.5,592 1639.5,592 1639.5,600 1642.5,600 1642.5,598 1645.5,598 1645.5,594 1648.5,594 1648.5,596 1657.5,596 1657.5,598 1660.5,598 1660.5,589 1663.5,589 1663.5,587 1666.5,587 1666.5,591 1669.5,591 1669.5,586 1672.5,586 1672.5,582 1675.5,582 1675.5,591 1678.5,591 1678.5,599 1681.5,599 1681.5,596 1684.5,596 1684.5,594 1687.5,594 1687.5,596 1693.5,596 1693.5,597 1696.5,597 1696.5,600 1699.5,600 1699.5,604 1702.5,604 1702.5,603 1705.5,603 1705.5,606 1711.5,606 1711.5,605 1717.5,605 1717.5,610 1719.5,610 1719.5,704 1717.5,704 1717.5,709 1714.5,709 1714.5,713 1711.5,713 1711.5,703 1708.5,703 1708.5,702 1702.5,702 1702.5,698 1699.5,698 1699.5,689 1696.5,689 1696.5,691 1693.5,691 1693.5,692 1687.5,692 1687.5,686 1684.5,686 1684.5,689 1681.5,689 1681.5,690 1672.5,690 1672.5,700 1669.5,700 1669.5,702 1666.5,702 1666.5,699 1663.5,699 1663.5,692 1657.5,692 1657.5,695 1654.5,695 1654.5,696 1651.5,696 1651.5,697 1648.5,697 1648.5,706 1645.5,706 1645.5,705 1642.5,705 1642.5,694 1636.5,694 1636.5,691 1633.5,691 1633.5,690 1630.5,690 1630.5,699 1627.5,699 1627.5,701 1624.5,701 1624.5,700 1621.5,700 1621.5,710 1618.5,710 1618.5,717 1615.5,717 1615.5,700 1612.5,700 1612.5,710 1609.5,710 1609.5,712 1606.5,712 1606.5,707 1603.5,707 1603.5,702 1600.5,702 1600.5,707 1597.5,707 1597.5,710 1591.5,710 1591.5,718 1588.5,718 1588.5,720 1585.5,720 1585.5,714 1582.5,714 1582.5,702 1579.5,702 1579.5,704 1576.5,704 1576.5,696 1573.5,696 1573.5,691 1570.5,691 1570.5,693 1567.5,693 1567.5,688 1564.5,688 1564.5,675 1561.5,675 1561.5,672 1558.5,672 1558.5,667 1555.5,667 1555.5,660 1552.5,660 1552.5,649 1546.5,649 1546.5,647 1543.5,647 1543.5,636 1540.5,636 1540.5,630 1537.5,630 1537.5,636 1534.5,636 1534.5,637 1531.5,637 1531.5,632 1528.5,632 1528.5,636 1525.5,636 1525.5,639 1522.5,639 1522.5,638 1519.5,638 1519.5,632 1516.5,632 1516.5,634 1513.5,634 1513.5,636 1510.5,636 1510.5,637 1504.5,637 1504.5,640 1501.5,640 1501.5,639 1498.5,639 1498.5,635 1495.5,635 1495.5,633 1492.5,633 1492.5,641 1489.5,641 1489.5,645 1486.5,645 1486.5,637 1483.5,637 1483.5,642 1480.5,642 1480.5,644 1477.5,644 1477.5,636 1474.5,636 1474.5,639 1471.5,639 1471.5,641 1468.5,641 1468.5,640 1465.5,640 1465.5,638 1462.5,638 1462.5,644 1459.5,644 1459.5,650 1456.5,650 1456.5,647 1453.5,647 1453.5,642 1447.5,642 1447.5,639 1444.5,639 1444.5,636 1441.5,636 1441.5,646 1438.5,646 1438.5,651 1435.5,651 1435.5,644 1432.5,644 1432.5,642 1429.5,642 1429.5,644 1423.5,644 1423.5,642 1420.5,642 1420.5,659 1417.5,659 1417.5,654 1414.5,654 1414.5,639 1411.5,639 1411.5,636 1408.5,636 1408.5,635 1405.5,635 1405.5,632 1402.5,632 1402.5,633 1399.5,633 1399.5,640 1393.5,640 1393.5,637 1390.5,637 1390.5,626 1387.5,626 1387.5,632 1384.5,632 1384.5,635 1381.5,635 1381.5,627 1378.5,627 1378.5,622 1375.5,622 1375.5,632 1369.5,632 1369.5,624 1366.5,624 1366.5,617 1363.5,617 1363.5,621 1357.5,621 1357.5,617 1354.5,617 1354.5,612 1351.5,612 1351.5,615 1348.5,615 1348.5,616 1345.5,616 1345.5,615 1342.5,615 1342.5,612 1336.5,612 1336.5,623 1333.5,623 1333.5,626 1330.5,626 1330.5,618 1327.5,618 1327.5,626 1324.5,626 1324.5,627 1321.5,627 1321.5,625 1318.5,625 1318.5,615 1315.5,615 1315.5,618 1312.5,618 1312.5,622 1309.5,622 1309.5,623 1306.5,623 1306.5,615 1303.5,615 1303.5,614 1300.5,614 1300.5,616 1294.5,616 1294.5,632 1291.5,632 1291.5,634 1288.5,634 1288.5,626 1285.5,626 1285.5,636 1282.5,636 1282.5,639 1279.5,639 1279.5,628 1276.5,628 1276.5,623 1273.5,623 1273.5,630 1270.5,630 1270.5,633 1267.5,633 1267.5,622 1264.5,622 1264.5,630 1261.5,630 1261.5,636 1258.5,636 1258.5,626 1255.5,626 1255.5,630 1252.5,630 1252.5,631 1249.5,631 1249.5,630 1246.5,630 1246.5,622 1243.5,622 1243.5,637 1240.5,637 1240.5,634 1237.5,634 1237.5,624 1234.5,624 1234.5,634 1231.5,634 1231.5,638 1228.5,638 1228.5,634 1225.5,634 1225.5,630 1219.5,630 1219.5,629 1216.5,629 1216.5,625 1213.5,625 1213.5,630 1210.5,630 1210.5,626 1207.5,626 1207.5,625 1204.5,625 1204.5,628 1201.5,628 1201.5,623 1198.5,623 1198.5,621 1195.5,621 1195.5,632 1192.5,632 1192.5,634 1189.5,634 1189.5,622 1186.5,622 1186.5,624 1183.5,624 1183.5,625 1180.5,625 1180.5,626 1177.5,626 1177.5,623 1174.5,623 1174.5,625 1171.5,625 1171.5,627 1168.5,627 1168.5,631 1165.5,631 1165.5,625 1162.5,625 1162.5,636 1159.5,636 1159.5,639 1156.5,639 1156.5,635 1153.5,635 1153.5,632 1150.5,632 1150.5,639 1147.5,639 1147.5,630 1144.5,630 1144.5,634 1138.5,634 1138.5,629 1135.5,629 1135.5,622 1132.5,622 1132.5,627 1129.5,627 1129.5,631 1126.5,631 1126.5,630 1123.5,630 1123.5,620 1120.5,620 1120.5,622 1117.5,622 1117.5,629 1114.5,629 1114.5,611 1108.5,611 1108.5,613 1102.5,613 1102.5,609 1099.5,609 1099.5,615 1096.5,615 1096.5,618 1093.5,618 1093.5,611 1090.5,611 1090.5,599 1087.5,599 1087.5,602 1084.5,602 1084.5,603 1078.5,603 1078.5,602 1075.5,602 1075.5,598 1072.5,598 1072.5,596 1066.5,596 1066.5,594 1063.5,594 1063.5,597 1060.5,597 1060.5,607 1057.5,607 1057.5,609 1054.5,609 1054.5,600 1051.5,600 1051.5,605 1048.5,605 1048.5,617 1045.5,617 1045.5,604 1042.5,604 1042.5,601 1039.5,601 1039.5,603 1036.5,603 1036.5,599 1033.5,599 1033.5,598 1030.5,598 1030.5,607 1024.5,607 1024.5,594 1021.5,594 1021.5,604 1018.5,604 1018.5,586 1015.5,586 1015.5,590 1012.5,590 1012.5,595 1009.5,595 1009.5,596 1006.5,596 1006.5,599 1003.5,599 1003.5,605 1000.5,605 1000.5,601 997.5,601 997.5,596 994.5,596 994.5,595 991.5,595 991.5,592 988.5,592 988.5,589 985.5,589 985.5,593 982.5,593 982.5,597 979.5,597 979.5,591 976.5,591 976.5,596 973.5,596 973.5,602 970.5,602 970.5,605 964.5,605 964.5,610 961.5,610 961.5,614 958.5,614 958.5,610 955.5,610 955.5,608 952.5,608 952.5,610 946.5,610 946.5,606 943.5,606 943.5,601 940.5,601 940.5,608 937.5,608 937.5,615 934.5,615 934.5,612 931.5,612 931.5,603 928.5,603 928.5,607 925.5,607 925.5,613 922.5,613 922.5,612 919.5,612 919.5,604 916.5,604 916.5,598 913.5,598 913.5,603 910.5,603 910.5,607 907.5,607 907.5,601 904.5,601 904.5,608 898.5,608 898.5,605 895.5,605 895.5,601 892.5,601 892.5,606 889.5,606 889.5,610 886.5,610 886.5,611 883.5,611 883.5,606 880.5,606 880.5,608 874.5,608 874.5,604 871.5,604 871.5,611 868.5,611 868.5,613 865.5,613 865.5,609 862.5,609 862.5,606 859.5,606 859.5,610 856.5,610 856.5,613 853.5,613 853.5,612 850.5,612 850.5,611 847.5,611 847.5,619 844.5,619 844.5,621 841.5,621 841.5,619 838.5,619 838.5,614 835.5,614 835.5,625 832.5,625 832.5,621 829.5,621 829.5,613 826.5,613 826.5,603 823.5,603 823.5,600 820.5,600 820.5,598 817.5,598 817.5,599 811.5,599 811.5,598 808.5,598 808.5,601 805.5,601 805.5,594 802.5,594 802.5,597 799.5,597 799.5,601 796.5,601 796.5,600 793.5,600 793.5,598 790.5,598 790.5,611 784.5,611 784.5,605 781.5,605 781.5,594 778.5,594 778.5,603 775.5,603 775.5,596 772.5,596 772.5,594 769.5,594 769.5,601 766.5,601 766.5,598 763.5,598 763.5,594 760.5,594 760.5,595 757.5,595 757.5,596 751.5,596 751.5,611 748.5,611 748.5,608 745.5,608 745.5,596 742.5,596 742.5,604 739.5,604 739.5,605 736.5,605 736.5,596 733.5,596 733.5,604 727.5,604 727.5,596 724.5,596 724.5,603 718.5,603 718.5,597 715.5,597 715.5,591 712.5,591 712.5,589 709.5,589 709.5,590 706.5,590 706.5,587 703.5,587 703.5,589 700.5,589 700.5,584 697.5,584 697.5,587 694.5,587 694.5,591 691.5,591 691.5,590 688.5,590 688.5,588 685.5,588 685.5,593 682.5,593 682.5,594 673.5,594 673.5,597 670.5,597 670.5,598 667.5,598 667.5,590 664.5,590 664.5,592 661.5,592 661.5,596 658.5,596 658.5,589 655.5,589 655.5,584 652.5,584 652.5,587 649.5,587 649.5,585 646.5,585 646.5,584 643.5,584 643.5,581 640.5,581 640.5,579 637.5,579 637.5,578 634.5,578 634.5,576 631.5,576 631.5,575 628.5,575 628.5,576 625.5,576 625.5,573 622.5,573 622.5,571 619.5,571 619.5,577 616.5,577 616.5,585 613.5,585 613.5,589 610.5,589 610.5,583 607.5,583 607.5,586 604.5,586 604.5,577 601.5,577 601.5,574 598.5,574 598.5,582 595.5,582 595.5,574 592.5,574 592.5,572 589.5,572 589.5,571 586.5,571 586.5,573 583.5,573 583.5,572 580.5,572 580.5,571 577.5,571 577.5,573 574.5,573 574.5,580 568.5,580 568.5,568 565.5,568 565.5,567 562.5,567 562.5,578 556.5,578 556.5,568 553.5,568 553.5,585 550.5,585 550.5,589 547.5,589 547.5,573 544.5,573 544.5,586 541.5,586 541.5,589 538.5,589 538.5,585 535.5,585 535.5,591 529.5,591 529.5,585 526.5,585 526.5,578 517.5,578 517.5,577 514.5,577 514.5,581 511.5,581 511.5,591 505.5,591 505.5,582 502.5,582 502.5,589 499.5,589 499.5,590 496.5,590 496.5,588 493.5,588 493.5,589 490.5,589 490.5,596 487.5,596 487.5,595 484.5,595 484.5,661 481.5,661 481.5,672 478.5,672 478.5,676 475.5,676 475.5,600 472.5,600 472.5,599 463.5,599 463.5,597 460.5,597 460.5,601 457.5,601 457.5,596 454.5,596 454.5,608 451.5,608 451.5,610 448.5,610 448.5,604 445.5,604 445.5,607 442.5,607 442.5,619 439.5,619 439.5,612 436.5,612 436.5,604 433.5,604 433.5,606 427.5,606 427.5,599 424.5,599 424.5,608 421.5,608 421.5,609 418.5,609 418.5,605 415.5,605 415.5,596 412.5,596 412.5,602 409.5,602 409.5,606 406.5,606 406.5,607 403.5,607 403.5,594 400.5,594 400.5,604 397.5,604 397.5,607 394.5,607 394.5,599 391.5,599 391.5,606 388.5,606 388.5,610 385.5,610 385.5,608 382.5,608 382.5,603 379.5,603 379.5,602 376.5,602 376.5,599 373.5,599 373.5,592 370.5,592 370.5,596 367.5,596 367.5,597 364.5,597 364.5,594 361.5,594 361.5,609 358.5,609 358.5,618 355.5,618 355.5,621 352.5,621 352.5,614 349.5,614 349.5,615 346.5,615 346.5,617 343.5,617 343.5,615 340.5,615 340.5,609 337.5,609 337.5,610 334.5,610 334.5,611 331.5,611 331.5,609 325.5,609 325.5,608 322.5,608 322.5,603 319.5,603 319.5,593 316.5,593 316.5,590 313.5,590 313.5,596 310.5,596 310.5,602 307.5,602 307.5,599 304.5,599 304.5,647 301.5,647 301.5,652 298.5,652 298.5,649 295.5,649"/>
<polygon fill="#f54242" points="287,587 295.4,587 295.4,585 297,585 297,563 300,563 300,653 295.4,653 295.4,710 287,710"/>
<rect x="281.70" y="578.00" width="5.30" height="576.00" fill="#f54242"/>
<rect x="281.70" y="578.00" width="2.50" height="576.00" fill="#d03838"/>
<rect x="281.70" y="1154.00" width="5.30" height="92.00" fill="#505050"/>
<rect x="281.50" y="499.00" width="5.50" height="79.00" fill="#505050"/>
<rect x="284.00" y="488.00" width="3.00" height="11.00" fill="#505050"/>
<rect x="1150.6" y="64.4" width="608" height="146.4" fill="#fff" stroke="#000" stroke-width="3"/>
<rect x="1154.00" y="97.20" width="120.20" height="6.60" fill="#505050"/>
<rect x="1154.00" y="167.20" width="120.20" height="7.00" fill="#f54242"/>
<text id="lgA1" x="1284" y="122" font-size="56.6">rotary sliding</text>
<text id="lgA2" x="1284" y="191" font-size="56.6">reciprocating sliding</text>
<text id="tagA" class="b" x="321" y="153.3" font-size="102.5">(a)</text>
<text id="ylA" class="b" transform="translate(90.5 611.5) rotate(-90)" text-anchor="middle" font-size="73.3">Friction coefficient</text>
<text id="xlA" class="b" x="1028.3" y="1422.5" text-anchor="middle" font-size="73.9">Sliding time (min)</text>
</g>
<g id="panel-b">
<g id="series-b">
<path d="M343.0 1928.7V2259.3" stroke="#000" stroke-width="2.7" fill="none"/>
<path d="M330.7 1928.7H355.3" stroke="#000" stroke-width="2.6" fill="none"/>
<path d="M330.7 2259.3H355.3" stroke="#000" stroke-width="2.6" fill="none"/>
<path d="M433.4 1962.0V2267.2" stroke="#333" stroke-width="2.3" fill="none"/>
<path d="M421.1 1962.0H445.7" stroke="#333" stroke-width="2.6" fill="none"/>
<path d="M421.1 2267.2H445.7" stroke="#333" stroke-width="2.6" fill="none"/>
<path d="M615.1 1988.5V2267.2" stroke="#000" stroke-width="2.7" fill="none"/>
<path d="M602.8 1988.5H627.4" stroke="#000" stroke-width="2.6" fill="none"/>
<path d="M602.8 2267.2H627.4" stroke="#000" stroke-width="2.6" fill="none"/>
<path d="M978.4 1991.6V2275.3" stroke="#000" stroke-width="2.7" fill="none"/>
<path d="M966.1 1991.6H990.7" stroke="#000" stroke-width="2.6" fill="none"/>
<path d="M966.1 2275.3H990.7" stroke="#000" stroke-width="2.6" fill="none"/>
<path d="M1705.2 2010.5V2280.5" stroke="#d8d8d8" stroke-width="5" fill="none"/>
<path d="M1692.9 2010.5H1717.5" stroke="#444" stroke-width="3" fill="none"/>
<path d="M1692.9 2280.5H1717.5" stroke="#cfcfcf" stroke-width="3" fill="none"/>
<path d="M370.8 2098.8L405.6 2106.8" stroke="#000" stroke-width="8.9" stroke-linecap="round" fill="none"/>
<path d="M461.8 2115.3L586.7 2124.8" stroke="#000" stroke-width="8.9" stroke-linecap="round" fill="none"/>
<path d="M643.6 2127.4L949.9 2132.9" stroke="#000" stroke-width="8.9" stroke-linecap="round" fill="none"/>
<path d="M1006.9 2133.8L1675.5 2143.8" stroke="#000" stroke-width="8.9" stroke-linecap="round" fill="none"/>
<rect x="325.40" y="2075.00" width="35.20" height="34.80" fill="#000"/>
<rect x="415.80" y="2095.80" width="35.20" height="34.80" fill="#000"/>
<rect x="597.50" y="2109.50" width="35.20" height="34.80" fill="#000"/>
<rect x="960.80" y="2116.00" width="35.20" height="34.80" fill="#000"/>
<rect x="1686.40" y="2126.80" width="35.20" height="34.80" fill="#000"/>
</g>
<rect x="247.60" y="1494.30" width="9.60" height="1232.70" fill="#000"/>
<rect x="1761.00" y="1494.30" width="9.70" height="1232.70" fill="#000"/>
<rect x="247.60" y="1494.30" width="1523.10" height="9.90" fill="#000"/>
<rect x="247.60" y="2717.60" width="1523.10" height="9.40" fill="#000"/>
<rect x="256.70" y="2656.55" width="8.00" height="9.00" fill="#000"/>
<rect x="256.70" y="2595.40" width="19.50" height="9.00" fill="#000"/>
<rect x="256.70" y="2534.25" width="8.00" height="9.00" fill="#000"/>
<rect x="256.70" y="2473.10" width="19.50" height="9.00" fill="#000"/>
<rect x="256.70" y="2411.95" width="8.00" height="9.00" fill="#000"/>
<rect x="256.70" y="2350.80" width="19.50" height="9.00" fill="#000"/>
<rect x="256.70" y="2289.65" width="8.00" height="9.00" fill="#000"/>
<rect x="256.70" y="2228.50" width="19.50" height="9.00" fill="#000"/>
<rect x="256.70" y="2167.35" width="8.00" height="9.00" fill="#000"/>
<rect x="256.70" y="2106.20" width="19.50" height="9.00" fill="#000"/>
<rect x="256.70" y="2045.05" width="8.00" height="9.00" fill="#000"/>
<rect x="256.70" y="1983.90" width="19.50" height="9.00" fill="#000"/>
<rect x="256.70" y="1922.75" width="8.00" height="9.00" fill="#000"/>
<rect x="256.70" y="1861.60" width="19.50" height="9.00" fill="#000"/>
<rect x="256.70" y="1800.45" width="8.00" height="9.00" fill="#000"/>
<rect x="256.70" y="1739.30" width="19.50" height="9.00" fill="#000"/>
<rect x="256.70" y="1678.15" width="8.00" height="9.00" fill="#000"/>
<rect x="256.70" y="1617.00" width="19.50" height="9.00" fill="#000"/>
<rect x="256.70" y="1555.85" width="8.00" height="9.00" fill="#000"/>
<rect x="339.00" y="2709.60" width="9.50" height="8.50" fill="#000"/>
<rect x="429.75" y="2697.60" width="9.50" height="20.50" fill="#000"/>
<rect x="520.50" y="2709.60" width="9.50" height="8.50" fill="#000"/>
<rect x="611.25" y="2697.60" width="9.50" height="20.50" fill="#000"/>
<rect x="702.00" y="2709.60" width="9.50" height="8.50" fill="#000"/>
<rect x="792.75" y="2697.60" width="9.50" height="20.50" fill="#000"/>
<rect x="883.50" y="2709.60" width="9.50" height="8.50" fill="#000"/>
<rect x="974.25" y="2697.60" width="9.50" height="20.50" fill="#000"/>
<rect x="1065.00" y="2709.60" width="9.50" height="8.50" fill="#000"/>
<rect x="1155.75" y="2697.60" width="9.50" height="20.50" fill="#000"/>
<rect x="1246.50" y="2709.60" width="9.50" height="8.50" fill="#000"/>
<rect x="1337.25" y="2697.60" width="9.50" height="20.50" fill="#000"/>
<rect x="1428.00" y="2709.60" width="9.50" height="8.50" fill="#000"/>
<rect x="1518.75" y="2697.60" width="9.50" height="20.50" fill="#000"/>
<rect x="1609.50" y="2709.60" width="9.50" height="8.50" fill="#000"/>
<rect x="1700.25" y="2697.60" width="9.50" height="20.50" fill="#000"/>
<text class="tk" y="2744.9" font-size="64"><tspan x="131.8">0</tspan><tspan class="pd" x="164.5">.</tspan><tspan x="194.8">0</tspan></text>
<text class="tk" y="2622.6" font-size="64"><tspan x="131.8">0</tspan><tspan class="pd" x="164.5">.</tspan><tspan x="194.8">1</tspan></text>
<text class="tk" y="2500.3" font-size="64"><tspan x="131.8">0</tspan><tspan class="pd" x="164.5">.</tspan><tspan x="194.8">2</tspan></text>
<text class="tk" y="2378.0" font-size="64"><tspan x="131.8">0</tspan><tspan class="pd" x="164.5">.</tspan><tspan x="194.8">3</tspan></text>
<text class="tk" y="2255.7" font-size="64"><tspan x="131.8">0</tspan><tspan class="pd" x="164.5">.</tspan><tspan x="194.8">4</tspan></text>
<text class="tk" y="2133.4" font-size="64"><tspan x="131.8">0</tspan><tspan class="pd" x="164.5">.</tspan><tspan x="194.8">5</tspan></text>
<text class="tk" y="2011.1" font-size="64"><tspan x="131.8">0</tspan><tspan class="pd" x="164.5">.</tspan><tspan x="194.8">6</tspan></text>
<text class="tk" y="1888.8" font-size="64"><tspan x="131.8">0</tspan><tspan class="pd" x="164.5">.</tspan><tspan x="194.8">7</tspan></text>
<text class="tk" y="1766.5" font-size="64"><tspan x="131.8">0</tspan><tspan class="pd" x="164.5">.</tspan><tspan x="194.8">8</tspan></text>
<text class="tk" y="1644.2" font-size="64"><tspan x="131.8">0</tspan><tspan class="pd" x="164.5">.</tspan><tspan x="194.8">9</tspan></text>
<text class="tk" y="1521.9" font-size="64"><tspan x="131.8">1</tspan><tspan class="pd" x="164.5">.</tspan><tspan x="194.8">0</tspan></text>
<text class="tk" x="237.2" y="2801.2" font-size="64">0</text>
<text class="tk" x="403.0 434.5" y="2801.2" font-size="64">30</text>
<text class="tk" x="584.5 616.0" y="2801.2" font-size="64">60</text>
<text class="tk" x="766.0 797.5" y="2801.2" font-size="64">90</text>
<text class="tk" x="931.8 963.2 994.8" y="2801.2" font-size="64">120</text>
<text class="tk" x="1113.2 1144.8 1176.2" y="2801.2" font-size="64">150</text>
<text class="tk" x="1294.8 1326.2 1357.8" y="2801.2" font-size="64">180</text>
<text class="tk" x="1476.2 1507.8 1539.2" y="2801.2" font-size="64">210</text>
<text class="tk" x="1657.8 1689.2 1720.8" y="2801.2" font-size="64">240</text>
<path d="M1182 1596H1232.5M1287 1596H1338.5" stroke="#000" stroke-width="14.2" stroke-linecap="round" fill="none"/>
<rect x="1241.90" y="1578.30" width="35.10" height="34.60" fill="#000"/>
<text id="lgB" x="1353.5" y="1617.3" font-size="69.4">rotary sliding</text>
<text id="tagB" class="b" x="312" y="1618.4" font-size="104">(b)</text>
<text id="ylB" class="b nk" transform="translate(101 2109.5) rotate(-90)" text-anchor="middle" font-size="75.05">Average friction coefficient</text>
<text id="xlB" class="b" x="1008.2" y="2901.0" text-anchor="middle" font-size="71.5" textLength="580" lengthAdjust="spacingAndGlyphs">Sliding time (min)</text>
</g>
<g id="panel-c">
<g id="series-c">
<path d="M345.3 3325.9V3760.2" stroke="#ff5a5a" stroke-width="2.4" fill="none"/>
<path d="M333.0 3325.9H357.6" stroke="#ff5a5a" stroke-width="2.2" fill="none"/>
<path d="M333.0 3760.2H357.6" stroke="#ff5a5a" stroke-width="2.2" fill="none"/>
<path d="M435.6 3287.5V3719.0" stroke="#ff5050" stroke-width="2.4" fill="none"/>
<path d="M423.3 3287.5H447.9" stroke="#ff0000" stroke-width="2.6" fill="none"/>
<path d="M423.3 3719.0H447.9" stroke="#ff2020" stroke-width="2.6" fill="none"/>
<path d="M615.7 3265.7V3700.0" stroke="#ff4040" stroke-width="2.4" fill="none"/>
<path d="M603.4 3265.7H628.0" stroke="#ff4040" stroke-width="2.6" fill="none"/>
<path d="M603.4 3700.0H628.0" stroke="#ff4040" stroke-width="2.6" fill="none"/>
<path d="M975.6 3257.5V3727.2" stroke="#ff0000" stroke-width="3.0" fill="none"/>
<path d="M963.3 3257.5H987.9" stroke="#ff0000" stroke-width="3" fill="none"/>
<path d="M963.3 3727.2H987.9" stroke="#ff0000" stroke-width="3" fill="none"/>
<path d="M1698.4 3265.9V3812.8" stroke="#ffa0a0" stroke-width="2.6" fill="none"/>
<path d="M1686.1 3265.9H1710.7" stroke="#ff7070" stroke-width="2.4" fill="none"/>
<path d="M1686.1 3812.8H1710.7" stroke="#ffcccc" stroke-width="2.4" fill="none"/>
<path d="M369.9 3529.9L407.2 3514.0" stroke="#ff0000" stroke-width="8.4" stroke-linecap="round" fill="none"/>
<path d="M461.7 3499.6L586.8 3485.0" stroke="#ff0000" stroke-width="8.4" stroke-linecap="round" fill="none"/>
<path d="M643.6 3482.6L946.7 3491.6" stroke="#ff0000" stroke-width="8.4" stroke-linecap="round" fill="none"/>
<path d="M1003.6 3494.3L1667.4 3535.7" stroke="#ff0000" stroke-width="8.4" stroke-linecap="round" fill="none"/>
<rect x="326.10" y="3523.60" width="35.20" height="34.80" fill="#ff0000"/>
<rect x="415.80" y="3485.50" width="35.20" height="34.80" fill="#ff0000"/>
<rect x="597.50" y="3464.30" width="35.20" height="34.80" fill="#ff0000"/>
<rect x="957.60" y="3475.10" width="35.20" height="34.80" fill="#ff0000"/>
<rect x="1678.20" y="3520.10" width="35.20" height="34.80" fill="#ff0000"/>
</g>
<rect x="249.20" y="2961.40" width="10.00" height="1227.10" fill="#000"/>
<rect x="1754.00" y="2961.40" width="8.60" height="1227.10" fill="#000"/>
<rect x="249.20" y="2961.40" width="1513.40" height="8.60" fill="#000"/>
<rect x="249.20" y="4179.00" width="1513.40" height="9.50" fill="#000"/>
<rect x="258.70" y="4118.55" width="7.50" height="8.50" fill="#000"/>
<rect x="258.70" y="4057.65" width="19.50" height="8.50" fill="#000"/>
<rect x="258.70" y="3996.75" width="7.50" height="8.50" fill="#000"/>
<rect x="258.70" y="3935.85" width="19.50" height="8.50" fill="#000"/>
<rect x="258.70" y="3874.95" width="7.50" height="8.50" fill="#000"/>
<rect x="258.70" y="3814.05" width="19.50" height="8.50" fill="#000"/>
<rect x="258.70" y="3753.15" width="7.50" height="8.50" fill="#000"/>
<rect x="258.70" y="3692.25" width="19.50" height="8.50" fill="#000"/>
<rect x="258.70" y="3631.35" width="7.50" height="8.50" fill="#000"/>
<rect x="258.70" y="3570.45" width="19.50" height="8.50" fill="#000"/>
<rect x="258.70" y="3509.55" width="7.50" height="8.50" fill="#000"/>
<rect x="258.70" y="3448.65" width="19.50" height="8.50" fill="#000"/>
<rect x="258.70" y="3387.75" width="7.50" height="8.50" fill="#000"/>
<rect x="258.70" y="3326.85" width="19.50" height="8.50" fill="#000"/>
<rect x="258.70" y="3265.95" width="7.50" height="8.50" fill="#000"/>
<rect x="258.70" y="3205.05" width="19.50" height="8.50" fill="#000"/>
<rect x="258.70" y="3144.15" width="7.50" height="8.50" fill="#000"/>
<rect x="258.70" y="3083.25" width="19.50" height="8.50" fill="#000"/>
<rect x="258.70" y="3022.35" width="7.50" height="8.50" fill="#000"/>
<rect x="339.19" y="4170.80" width="10.00" height="8.70" fill="#000"/>
<rect x="429.39" y="4159.50" width="10.00" height="20.00" fill="#000"/>
<rect x="519.59" y="4170.80" width="10.00" height="8.70" fill="#000"/>
<rect x="609.78" y="4159.50" width="10.00" height="20.00" fill="#000"/>
<rect x="699.97" y="4170.80" width="10.00" height="8.70" fill="#000"/>
<rect x="790.17" y="4159.50" width="10.00" height="20.00" fill="#000"/>
<rect x="880.37" y="4170.80" width="10.00" height="8.70" fill="#000"/>
<rect x="970.56" y="4159.50" width="10.00" height="20.00" fill="#000"/>
<rect x="1060.76" y="4170.80" width="10.00" height="8.70" fill="#000"/>
<rect x="1150.95" y="4159.50" width="10.00" height="20.00" fill="#000"/>
<rect x="1241.14" y="4170.80" width="10.00" height="8.70" fill="#000"/>
<rect x="1331.34" y="4159.50" width="10.00" height="20.00" fill="#000"/>
<rect x="1421.54" y="4170.80" width="10.00" height="8.70" fill="#000"/>
<rect x="1511.73" y="4159.50" width="10.00" height="20.00" fill="#000"/>
<rect x="1601.92" y="4170.80" width="10.00" height="8.70" fill="#000"/>
<rect x="1692.12" y="4159.50" width="10.00" height="20.00" fill="#000"/>
<text class="tk" y="4206.5" font-size="64"><tspan x="133.1">0</tspan><tspan class="pd" x="165.8">.</tspan><tspan x="196.1">0</tspan></text>
<text class="tk" y="4084.7" font-size="64"><tspan x="133.1">0</tspan><tspan class="pd" x="165.8">.</tspan><tspan x="196.1">1</tspan></text>
<text class="tk" y="3962.9" font-size="64"><tspan x="133.1">0</tspan><tspan class="pd" x="165.8">.</tspan><tspan x="196.1">2</tspan></text>
<text class="tk" y="3841.1" font-size="64"><tspan x="133.1">0</tspan><tspan class="pd" x="165.8">.</tspan><tspan x="196.1">3</tspan></text>
<text class="tk" y="3719.3" font-size="64"><tspan x="133.1">0</tspan><tspan class="pd" x="165.8">.</tspan><tspan x="196.1">4</tspan></text>
<text class="tk" y="3597.5" font-size="64"><tspan x="133.1">0</tspan><tspan class="pd" x="165.8">.</tspan><tspan x="196.1">5</tspan></text>
<text class="tk" y="3475.7" font-size="64"><tspan x="133.1">0</tspan><tspan class="pd" x="165.8">.</tspan><tspan x="196.1">6</tspan></text>
<text class="tk" y="3353.9" font-size="64"><tspan x="133.1">0</tspan><tspan class="pd" x="165.8">.</tspan><tspan x="196.1">7</tspan></text>
<text class="tk" y="3232.1" font-size="64"><tspan x="133.1">0</tspan><tspan class="pd" x="165.8">.</tspan><tspan x="196.1">8</tspan></text>
<text class="tk" y="3110.3" font-size="64"><tspan x="133.1">0</tspan><tspan class="pd" x="165.8">.</tspan><tspan x="196.1">9</tspan></text>
<text class="tk" y="2988.5" font-size="64"><tspan x="133.1">1</tspan><tspan class="pd" x="165.8">.</tspan><tspan x="196.1">0</tspan></text>
<text class="tk" x="238.2" y="4262.4" font-size="64">0</text>
<text class="tk" x="402.9 434.4" y="4262.4" font-size="64">30</text>
<text class="tk" x="583.3 614.8" y="4262.4" font-size="64">60</text>
<text class="tk" x="763.7 795.2" y="4262.4" font-size="64">90</text>
<text class="tk" x="928.3 959.8 991.3" y="4262.4" font-size="64">120</text>
<text class="tk" x="1108.7 1140.2 1171.7" y="4262.4" font-size="64">150</text>
<text class="tk" x="1289.1 1320.6 1352.1" y="4262.4" font-size="64">180</text>
<text class="tk" x="1469.5 1501.0 1532.5" y="4262.4" font-size="64">210</text>
<text class="tk" x="1649.9 1681.4 1712.9" y="4262.4" font-size="64">240</text>
<path d="M976 3047.4H1025M1079.8 3047.4H1128.3" stroke="#ff0000" stroke-width="14.6" stroke-linecap="round" fill="none"/>
<rect x="1034.40" y="3029.90" width="35.50" height="35.10" fill="#ff0000"/>
<text id="lgC" x="1145.5" y="3071.2" font-size="68.75">reciprocating sliding</text>
<text id="tagC" class="b" x="303.5" y="3088.4" font-size="104">(c)</text>
<text id="ylC" class="b nk" transform="translate(104.6 3573.6) rotate(-90)" text-anchor="middle" font-size="74.6">Average friction coefficient</text>
<text id="xlC" class="b" x="1006.4" y="4359.8" text-anchor="middle" font-size="71.5" textLength="577.7" lengthAdjust="spacingAndGlyphs">Sliding time (min)</text>
</g>
</svg></body></html>
